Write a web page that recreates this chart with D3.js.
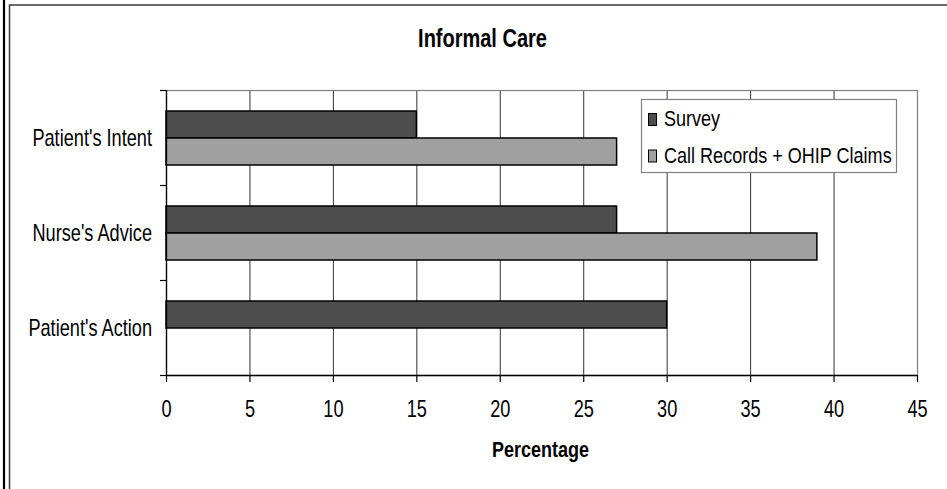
<!DOCTYPE html>
<html><head><meta charset="utf-8">
<script src="https://cdn.jsdelivr.net/npm/d3@7"></script>
<style>
body{margin:0;background:#fff}
svg{display:block}
text{font-family:"Liberation Sans",Arial,Helvetica,sans-serif;fill:#000}
</style></head>
<body>
<svg id="c" width="947" height="489"></svg>
<script>
const categories = ["Patient's Intent", "Nurse's Advice", "Patient's Action"];
const seriesNames = ["Survey", "Call Records + OHIP Claims"];
const surveyValues = [15, 27, 30];
const callValues = [27, 39, null];
const xTicks = [0, 5, 10, 15, 20, 25, 30, 35, 40, 45];
const chartTitle = "Informal Care";
const xTitle = "Percentage";

const colors = {"Survey": "#4d4d4d", "Call Records + OHIP Claims": "#a0a0a0"};
const SX = 0.79;

const svg = d3.select("#c");
const L = 166, R = 917, T = 90, B = 375;

const x = d3.scaleLinear().domain([0, 45]).range([L, R]);
const y = d3.scaleBand().domain(categories).range([T, B]).padding(0);
const barH = 27;
const yInner = d3.scaleBand().domain(seriesNames).range([0, barH * 2]).padding(0);
const off = (y.step() - barH * 2) / 2 + 0.5;

function txt(g, s, px, py, opts) {
  return g.append("text")
    .attr("transform", `translate(${px},${py}) scale(${opts.sx || SX},1)`)
    .attr("text-anchor", opts.anchor || "start")
    .style("font-size", (opts.size || 23) + "px")
    .style("font-weight", opts.bold ? "bold" : "normal")
    .text(s);
}

// outer frame lines
svg.append("line").attr("x1", 4).attr("x2", 4).attr("y1", 0).attr("y2", 489)
  .attr("stroke", "#000").attr("stroke-width", 2.2);
svg.append("path").attr("d", "M9.5,489 V5 H947").attr("fill", "none")
  .attr("stroke", "#3a3a3a").attr("stroke-width", 1.5);

// title
txt(svg, chartTitle, 482.5, 46.5, {anchor: "middle", size: 25, bold: true, sx: 0.8});

// gridlines
svg.append("g").selectAll("line").data(xTicks.filter(d => d > 0 && d < 45)).join("line")
  .attr("x1", d => x(d) + 0.5).attr("x2", d => x(d) + 0.5)
  .attr("y1", T).attr("y2", B)
  .attr("stroke", "#333").attr("stroke-width", 1);

// plot border
svg.append("rect").attr("x", L + 0.5).attr("y", T + 0.5).attr("width", R - L).attr("height", B - T)
  .attr("fill", "none").attr("stroke", "#808080").attr("stroke-width", 1.2);

// bars
const rows = categories.map((c, i) => ({cat: c, vals: [
  {s: seriesNames[0], v: surveyValues[i]},
  {s: seriesNames[1], v: callValues[i]}
]}));
const gb = svg.append("g").selectAll("g").data(rows).join("g")
  .attr("transform", d => `translate(0,${y(d.cat) + off})`);
gb.selectAll("rect").data(d => d.vals.filter(v => v.v != null)).join("rect")
  .attr("x", x(0)).attr("y", d => yInner(d.s))
  .attr("width", d => x(d.v) - x(0)).attr("height", yInner.bandwidth())
  .attr("fill", d => colors[d.s]).attr("stroke", "#000").attr("stroke-width", 1.5);

// x axis
const xa = svg.append("g").attr("transform", `translate(0,${B})`)
  .call(d3.axisBottom(x).tickValues(xTicks).tickSize(7).tickFormat(d3.format("d")));
xa.select(".domain").attr("stroke", "#000").attr("stroke-width", 1.3).attr("d", `M${L},0.5H${R}`);
xa.selectAll(".tick line").attr("stroke", "#000").attr("stroke-width", 1.2);
xa.selectAll(".tick text").attr("y", 25.5).attr("dy", "0.71em")
  .attr("transform", `scale(${SX},1)`)
  .style("font-size", "23px").style("font-family", "'Liberation Sans',Arial,sans-serif").attr("fill", "#000");

// y axis line & ticks
svg.append("line").attr("x1", L + 0.5).attr("x2", L + 0.5).attr("y1", T).attr("y2", B + 1)
  .attr("stroke", "#000").attr("stroke-width", 1.3);
const yb = categories.map(c => y(c)).concat([B]);
svg.append("g").selectAll("line").data(yb).join("line")
  .attr("x1", L - 6).attr("x2", L).attr("y1", d => d + 0.5).attr("y2", d => d + 0.5)
  .attr("stroke", "#000").attr("stroke-width", 1.2);

// y labels
categories.forEach(c => txt(svg, c, 152, y(c) + y.bandwidth() / 2 + 8, {anchor: "end"}));

// x title
txt(svg, xTitle, 540.5, 457, {anchor: "middle", size: 22, bold: true, sx: 0.82});

// legend
const lg = svg.append("g");
lg.append("rect").attr("x", 641.5).attr("y", 99.5).attr("width", 255).attr("height", 73)
  .attr("fill", "#fff").attr("stroke", "#808080").attr("stroke-width", 1.2);
const lbase = [126, 162.5];
seriesNames.forEach((s, i) => {
  lg.append("rect").attr("x", 648.5).attr("y", lbase[i] - 12.5).attr("width", 8).attr("height", 12)
    .attr("fill", colors[s]).attr("stroke", "#000").attr("stroke-width", 1);
  txt(lg, s, 664, lbase[i], {anchor: "start", size: 22, sx: 0.82});
});
</script>
</body></html>
